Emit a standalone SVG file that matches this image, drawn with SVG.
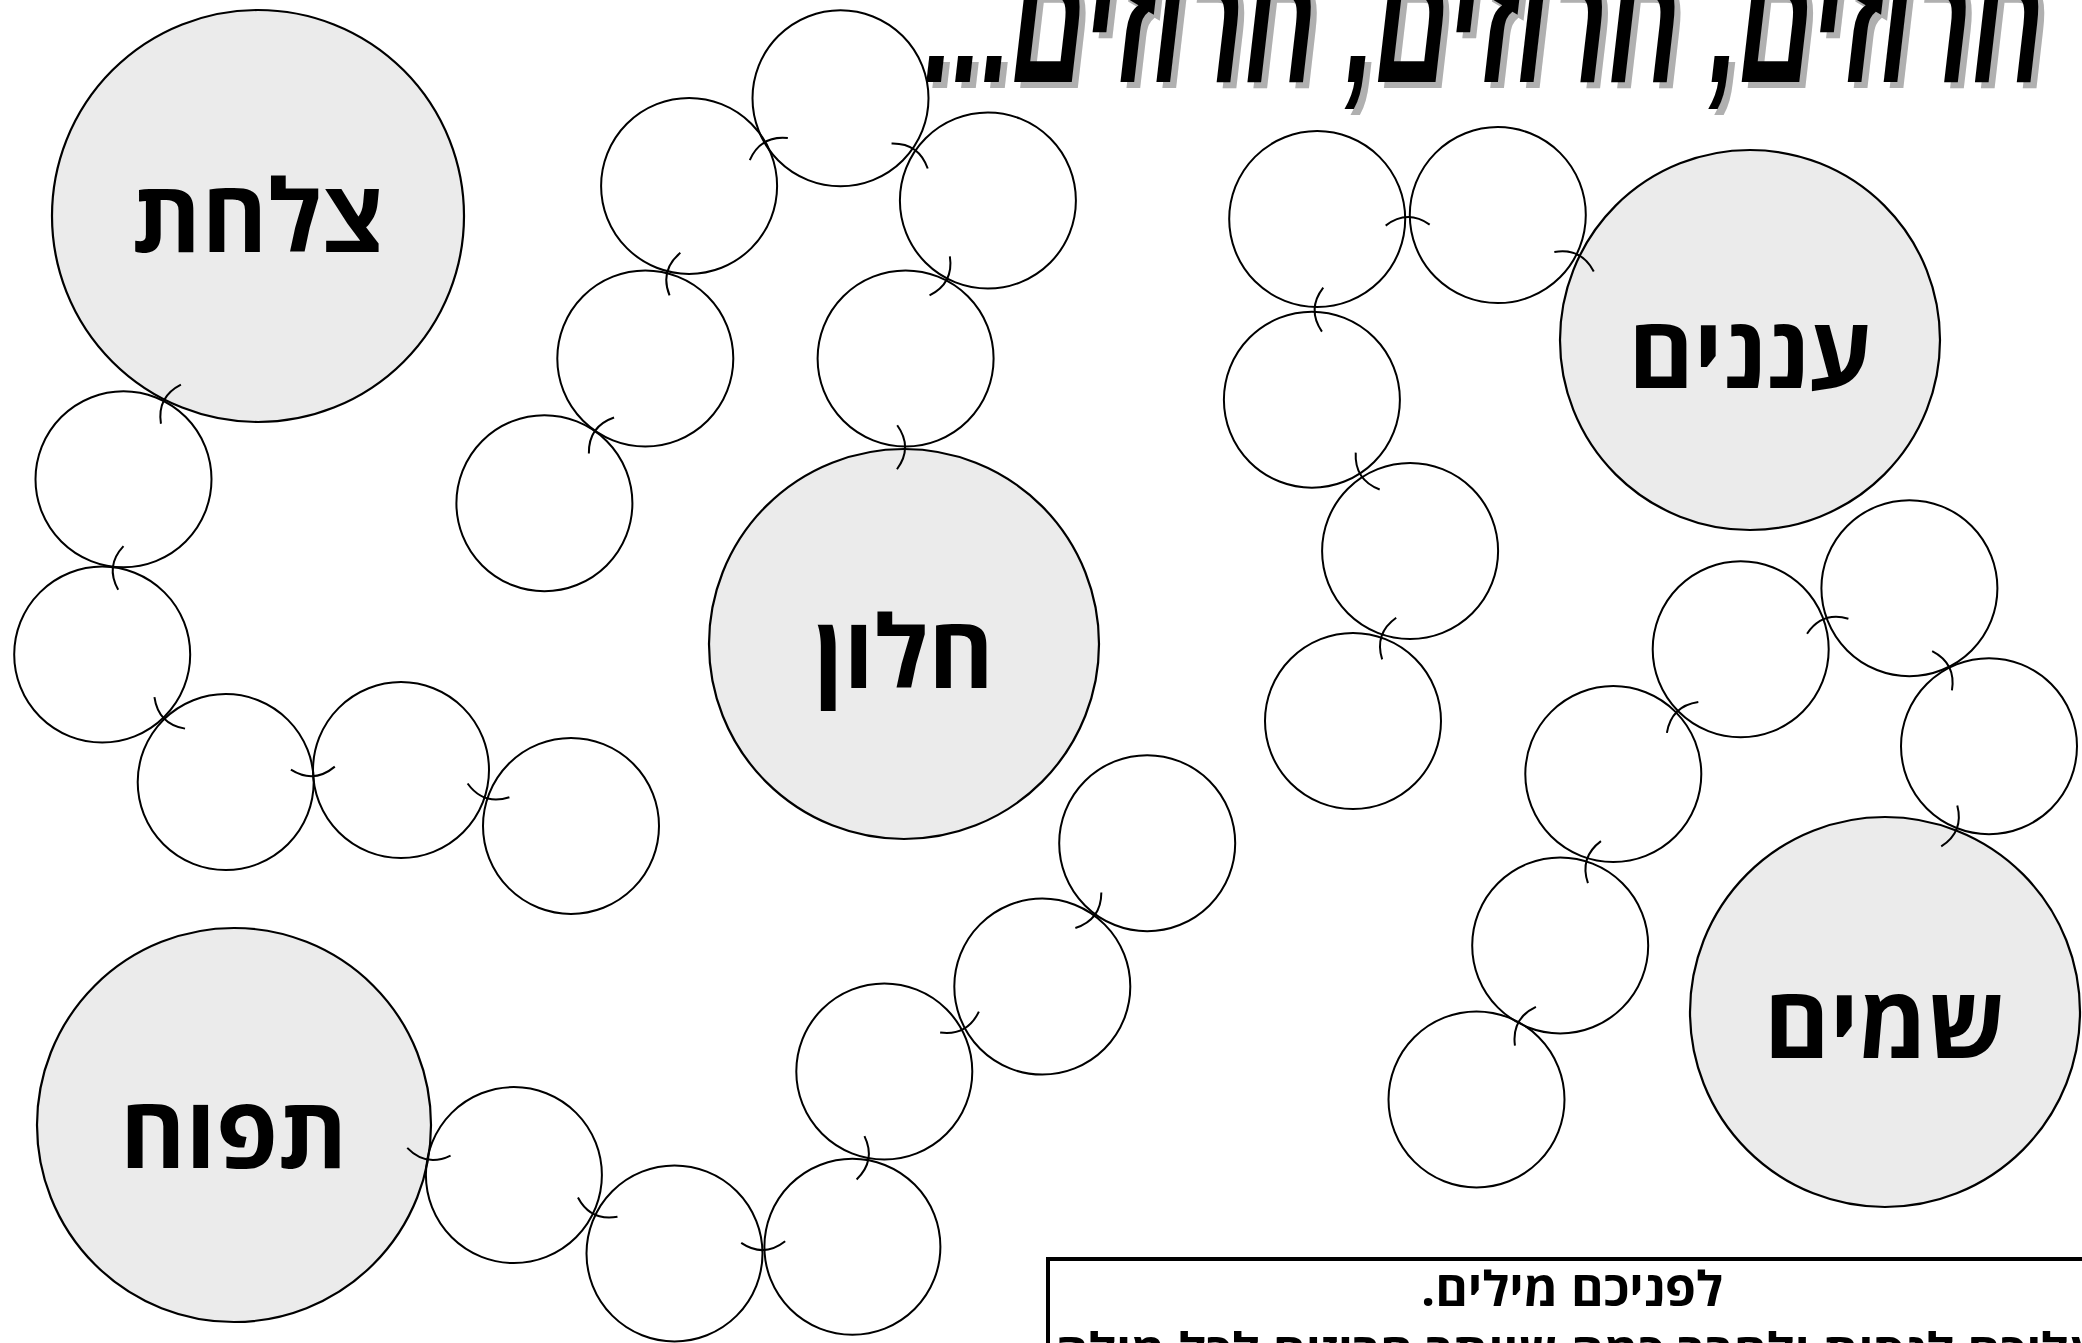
<svg xmlns="http://www.w3.org/2000/svg" xmlns:xlink="http://www.w3.org/1999/xlink" width="2082" height="1343" viewBox="0 0 2082 1343">
<style>
.big{fill:#ebebeb;stroke:#000;stroke-width:2.2}
.small{fill:none;stroke:#000;stroke-width:2}
.lbl{font-family:"Open Sans","DejaVu Sans","Liberation Sans",sans-serif;font-weight:700;font-size:100px;fill:#000;text-anchor:middle}
.tick{fill:none;stroke:#000;stroke-width:2}
.title{font-family:"Liberation Sans","DejaVu Sans",sans-serif;font-weight:700;font-style:italic;font-size:175px;text-anchor:middle}
.box{font-family:"Open Sans","DejaVu Sans","Liberation Sans",sans-serif;font-weight:700;text-anchor:middle;fill:#000}
</style>
<defs>
<path id="tk" d="M-22,-8 Q0,8 22,-8"/>
</defs>
<rect width="2082" height="1343" fill="#fff"/>
<g id="title">
<text class="title" direction="rtl" x="1490" y="88" fill="#b0b0b0" textLength="1120" lengthAdjust="spacingAndGlyphs">חרוזים, חרוזים, חרוזים...</text>
<text class="title" direction="rtl" x="1484" y="82" fill="#000" textLength="1120" lengthAdjust="spacingAndGlyphs">חרוזים, חרוזים, חרוזים...</text>
</g>
<g id="node-tsalachat"><circle class="big" cx="258" cy="216" r="206"/><text class="lbl" direction="rtl" x="258" y="252">צלחת</text></g>
<g id="node-ananim"><circle class="big" cx="1750" cy="340" r="190"/><text class="lbl" direction="rtl" x="1750" y="388">עננים</text></g>
<g id="node-chalon"><circle class="big" cx="904" cy="644" r="195"/><text class="lbl" direction="rtl" x="904" y="688">חלון</text></g>
<g id="node-shamayim"><circle class="big" cx="1885" cy="1012" r="195"/><text class="lbl" direction="rtl" x="1885" y="1058">שמים</text></g>
<g id="node-tapuach"><circle class="big" cx="234" cy="1125" r="197"/><text class="lbl" direction="rtl" x="234" y="1168">תפוח</text></g>
<g id="node-a"><circle class="small" cx="123.5" cy="479.3" r="88"/></g>
<g id="node-b"><circle class="small" cx="102.2" cy="654.6" r="88"/></g>
<g id="node-c"><circle class="small" cx="225.7" cy="782.1" r="88"/></g>
<g id="node-d"><circle class="small" cx="401" cy="770.1" r="88"/></g>
<g id="node-e"><circle class="small" cx="571" cy="825.9" r="88"/></g>
<g id="node-f"><circle class="small" cx="544.4" cy="503.2" r="88"/></g>
<g id="node-g"><circle class="small" cx="645.3" cy="358.5" r="88"/></g>
<g id="node-h"><circle class="small" cx="689.1" cy="185.9" r="88"/></g>
<g id="node-i"><circle class="small" cx="840.5" cy="98.3" r="88"/></g>
<g id="node-j"><circle class="small" cx="987.9" cy="200.5" r="88"/></g>
<g id="node-k"><circle class="small" cx="905.6" cy="358.5" r="88"/></g>
<g id="node-l"><circle class="small" cx="513.9" cy="1175.1" r="88"/></g>
<g id="node-m"><circle class="small" cx="674.5" cy="1253.4" r="88"/></g>
<g id="node-n"><circle class="small" cx="852.4" cy="1246.8" r="88"/></g>
<g id="node-o"><circle class="small" cx="884.3" cy="1071.5" r="88"/></g>
<g id="node-p"><circle class="small" cx="1042.3" cy="986.6" r="88"/></g>
<g id="node-q"><circle class="small" cx="1147.2" cy="843.2" r="88"/></g>
<g id="node-r"><circle class="small" cx="1497.8" cy="215.1" r="88"/></g>
<g id="node-s"><circle class="small" cx="1317.2" cy="219.1" r="88"/></g>
<g id="node-t"><circle class="small" cx="1311.9" cy="399.7" r="88"/></g>
<g id="node-u"><circle class="small" cx="1410.1" cy="551" r="88"/></g>
<g id="node-v"><circle class="small" cx="1353" cy="721" r="88"/></g>
<g id="node-w"><circle class="small" cx="1989" cy="746.2" r="88"/></g>
<g id="node-x"><circle class="small" cx="1909.4" cy="588.2" r="88"/></g>
<g id="node-y"><circle class="small" cx="1740.7" cy="649.3" r="88"/></g>
<g id="node-z"><circle class="small" cx="1613.3" cy="774.1" r="88"/></g>
<g id="node-aa"><circle class="small" cx="1560.2" cy="945.4" r="88"/></g>
<g id="node-bb"><circle class="small" cx="1476.5" cy="1099.4" r="88"/></g>
<g id="connectors" class="tick">
<use xlink:href="#tk" transform="translate(163.8,400.5) rotate(117)"/>
<use xlink:href="#tk" transform="translate(112.9,567) rotate(96.9)"/>
<use xlink:href="#tk" transform="translate(164,718.4) rotate(45.9)"/>
<use xlink:href="#tk" transform="translate(313.4,776.1) rotate(-3.9)"/>
<use xlink:href="#tk" transform="translate(486,798) rotate(18.2)"/>
<use xlink:href="#tk" transform="translate(905.1,447.3) rotate(-89.7)"/>
<use xlink:href="#tk" transform="translate(946.8,279.5) rotate(-62.5)"/>
<use xlink:href="#tk" transform="translate(914.2,149.4) rotate(-145.3)"/>
<use xlink:href="#tk" transform="translate(764.8,142.1) rotate(149.9)"/>
<use xlink:href="#tk" transform="translate(667.2,272.2) rotate(104.2)"/>
<use xlink:href="#tk" transform="translate(594.9,430.9) rotate(124.9)"/>
<use xlink:href="#tk" transform="translate(427.5,1159.6) rotate(10.1)"/>
<use xlink:href="#tk" transform="translate(594.2,1214.3) rotate(26)"/>
<use xlink:href="#tk" transform="translate(763.5,1250.1) rotate(-2.1)"/>
<use xlink:href="#tk" transform="translate(868.4,1159.2) rotate(-79.7)"/>
<use xlink:href="#tk" transform="translate(963.3,1029.1) rotate(-28.3)"/>
<use xlink:href="#tk" transform="translate(1094.8,914.9) rotate(-53.8)"/>
<use xlink:href="#tk" transform="translate(1577.6,254.6) rotate(-153.7)"/>
<use xlink:href="#tk" transform="translate(1407.5,217.1) rotate(178.7)"/>
<use xlink:href="#tk" transform="translate(1314.6,309.4) rotate(91.7)"/>
<use xlink:href="#tk" transform="translate(1361,475.4) rotate(57)"/>
<use xlink:href="#tk" transform="translate(1381.6,636) rotate(108.6)"/>
<use xlink:href="#tk" transform="translate(1956.7,828.8) rotate(-68.6)"/>
<use xlink:href="#tk" transform="translate(1949.2,667.2) rotate(-116.7)"/>
<use xlink:href="#tk" transform="translate(1825,618.7) rotate(160.1)"/>
<use xlink:href="#tk" transform="translate(1677,711.7) rotate(135.6)"/>
<use xlink:href="#tk" transform="translate(1586.8,859.8) rotate(107.2)"/>
<use xlink:href="#tk" transform="translate(1518.4,1022.4) rotate(118.5)"/>
</g>
<g id="instructions">
<rect x="1048" y="1259" width="1100" height="200" fill="#fff" stroke="#000" stroke-width="4"/>
<text class="box" direction="rtl" x="1572" y="1306" font-size="48" textLength="302" lengthAdjust="spacingAndGlyphs">לפניכם מילים.</text>
<text class="box" direction="rtl" x="1578" y="1366" font-size="46" textLength="1045" lengthAdjust="spacingAndGlyphs">עליכם לנסות ולחבר כמה שיותר חרוזים לכל מילה</text>
</g>
</svg>
